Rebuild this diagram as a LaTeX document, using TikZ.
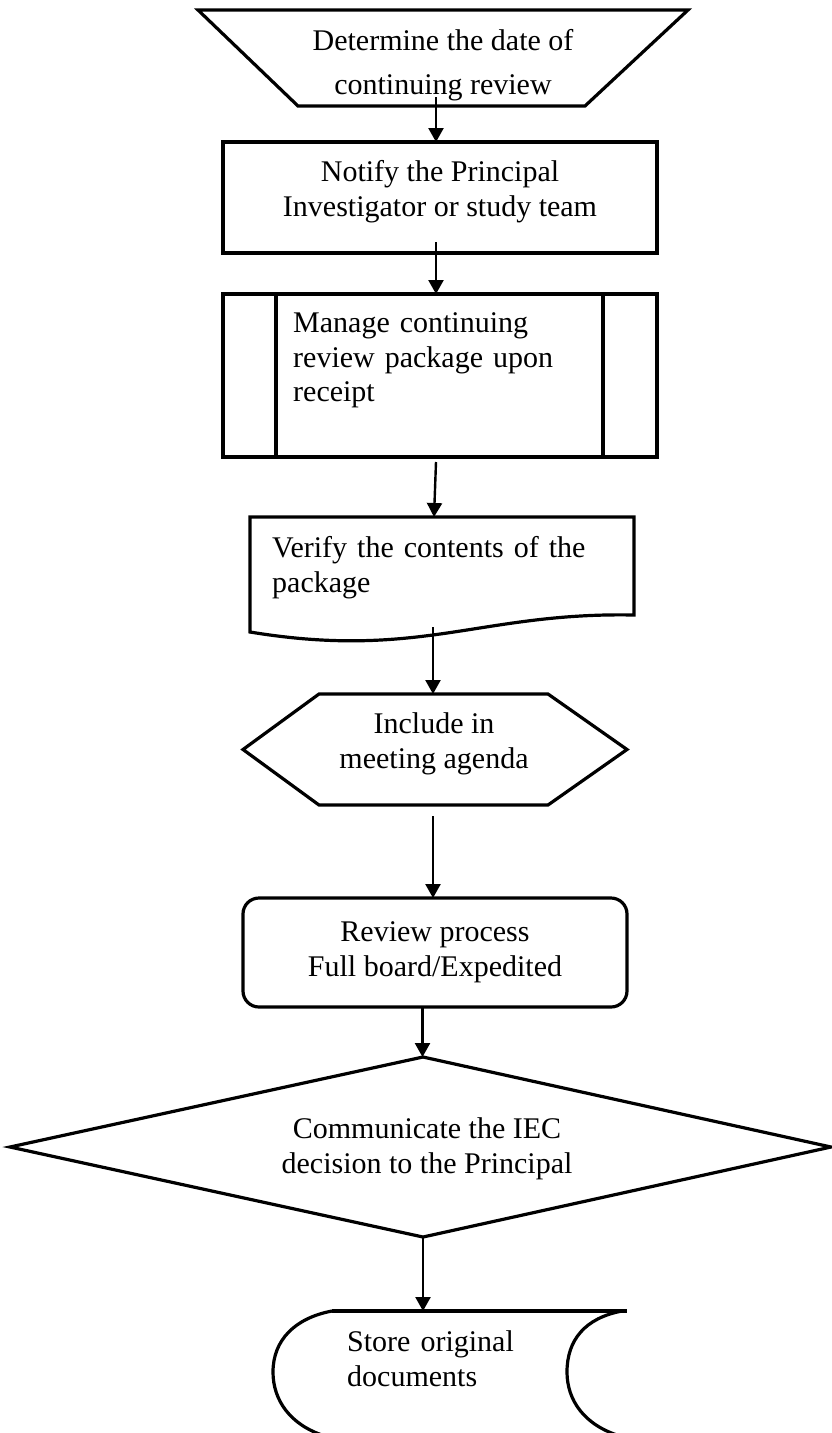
\documentclass[tikz,border=0pt]{standalone}
\usepackage{fontspec}
\setmainfont{Liberation Serif}
\usetikzlibrary{arrows.meta}

\tikzset{
  frame/.style={inner sep=0pt, outer sep=0pt},
  edge/.style={line width=3.2pt, line join=miter},
  txt/.style={inner sep=0pt, font=\fontsize{30}{34.5}\selectfont},
  arr/.style={line width=2.4pt, -{Triangle[length=14pt,width=15pt]}}
}

\begin{document}
\begin{tikzpicture}[x=1pt,y=-1pt]
\useasboundingbox (0,0) rectangle (832,1433);

% frames of the steps
\node[frame, minimum width=490, minimum height=96] (determine) at (443,58) {};
\node[frame, edge, draw, minimum width=434, minimum height=111] (notify) at (440,197.5) {};
\node[frame, edge, draw, minimum width=434, minimum height=163] (manage) at (440,375.5) {};
\node[frame, minimum width=384, minimum height=123] (verify) at (442,578.5) {};
\node[frame, minimum width=384, minimum height=111] (include) at (435,749.5) {};
\node[frame, edge, draw, rounded corners=16pt, minimum width=384, minimum height=109] (review) at (435,952.5) {};
\node[frame, minimum width=821, minimum height=180] (communicate) at (420.5,1147) {};
\node[frame, minimum width=354, minimum height=122] (store) at (450,1372) {};

% outlines that are not plain boxes
\draw[edge] (198,10) -- (688,10) -- (585,106) -- (298,106) -- cycle;
\draw[edge] (276,294) -- (276,457) (603,294) -- (603,457);
\draw[edge] (250,517) -- (634,517) -- (634,615) .. controls (480,612) and (420,660) .. (250,632) -- cycle;
\draw[edge] (243,749.5) -- (319,694) -- (548,694) -- (627,749.5) -- (548,805) -- (319,805) -- cycle;
\draw[edge] (423,1057) -- (831,1147) -- (423,1237) -- (10,1147) -- cycle;
\draw[edge] (332,1311) -- (627,1311);
\draw[edge] (332,1311) .. controls (295,1318) and (273,1340) .. (273,1372) .. controls (273,1400) and (290,1425) .. (325,1436);
\draw[edge] (622,1311) .. controls (585,1318) and (567,1340) .. (567,1372) .. controls (567,1400) and (584,1425) .. (620,1436);

% texts
\node[txt, anchor=north, align=center, font=\fontsize{30}{44}\selectfont] (determineText) at (443,29.5) {Determine the date of\\continuing review};
\node[txt, anchor=north, align=center] (notifyText) at (440,160.5) {Notify the Principal\\Investigator or study team};
\node[txt, anchor=north west, text width=300, align=left] (manageText) at (293,312.5) {Manage continuing\\review package upon\\receipt};
\node[txt, anchor=north west, text width=340, align=left] (verifyText) at (272,536.5) {Verify the contents of the\\package};
\node[txt, anchor=north, align=center] (includeText) at (434,712.5) {Include in\\meeting agenda};
\node[txt, anchor=north, align=center] (reviewText) at (435,921.5) {Review process\\Full board/Expedited};
\node[txt, anchor=north, align=center] (communicateText) at (427,1117.5) {Communicate the IEC\\decision to the Principal};
\node[txt, anchor=north west, text width=220, align=left] (storeText) at (347,1330.5) {Store original\\documents};

% connectors
\draw[arr] ([shift={(-7,-9)}]determine.south) -- ([xshift=-4pt]notify.north);
\draw[arr] ([shift={(-4,-11)}]notify.south) -- ([xshift=-4pt]manage.north);
\draw[arr] ([shift={(-4,5)}]manage.south) -- ([xshift=-8pt]verify.north);
\draw[arr] ([shift={(-9,-13)}]verify.south) -- ([xshift=-2pt]include.north);
\draw[arr] ([shift={(-2,11)}]include.south) -- ([xshift=-2pt]review.north);
\draw[arr] ([xshift=-12.5pt]review.south) -- ([xshift=2pt]communicate.north);
\draw[arr] ([xshift=2.5pt]communicate.south) -- ([xshift=-27pt]store.north);
\end{tikzpicture}
\end{document}
